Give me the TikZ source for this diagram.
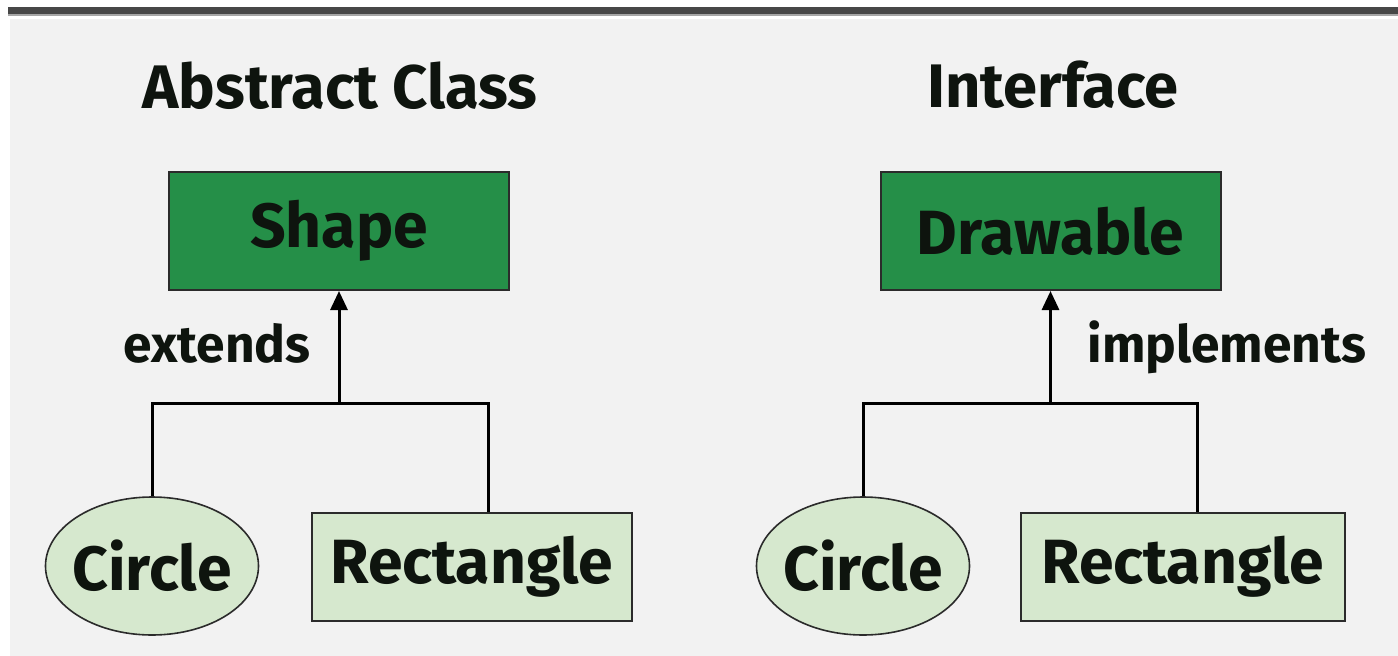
\documentclass[tikz,border=0pt]{standalone}
\usepackage{fontspec}
\setmainfont{Fira Sans}
\usetikzlibrary{arrows.meta,shapes.geometric}
\definecolor{pagebg}{HTML}{F2F2F2}
\definecolor{topbar}{HTML}{474747}
\definecolor{dkgreen}{HTML}{258F48}
\definecolor{ltgreen}{HTML}{D6E8CE}
\definecolor{edge}{HTML}{2B2B2B}
\definecolor{ink}{HTML}{0E140E}
\begin{document}
\begin{tikzpicture}[x=1pt,y=-1pt,
  every node/.style={text=ink},
  parentbox/.style={rectangle,draw=edge,line width=2pt,fill=dkgreen,
    minimum width=340pt,minimum height=118pt,inner sep=0pt,
    font=\fontsize{62.5}{64}\selectfont\bfseries},
  childbox/.style={rectangle,draw=edge,line width=2pt,fill=ltgreen,
    minimum height=108pt,inner sep=0pt,
    font=\fontsize{62.5}{64}\selectfont\bfseries},
  childoval/.style={ellipse,draw=edge,line width=1.6pt,fill=ltgreen,
    minimum width=213pt,minimum height=138pt,inner xsep=-14pt,inner ysep=0pt,
    font=\fontsize{62.5}{64}\selectfont\bfseries},
  heading/.style={anchor=base,inner sep=0pt,font=\fontsize{61.5}{64}\selectfont\bfseries},
  rel/.style={anchor=base,inner sep=0pt,font=\fontsize{51.5}{54}\selectfont\bfseries},
  conn/.style={line width=3pt,draw=black},
  tip/.style={-{Triangle[width=17pt,length=19pt]}}
]
\useasboundingbox (0,0) rectangle (1398,656);
% page background and top rule
\fill[white] (0,0) rectangle (1398,656);
\fill[pagebg] (10,19) rectangle (1398,656);
\fill[topbar] (8,7) rectangle (1398,14);
\fill[black!35] (8,14) rectangle (1398,15.5);

% ---- abstract class side ----
\node[heading] (titleA) at (340,108) {Abstract Class};
\node[parentbox] (shape) at (339,231) {Shape};
\node[childoval] (circA) at (152,566) {Circle};
\node[childbox,minimum width=320pt] (rectA) at (472,567) {Rectangle};
\coordinate (jA) at (339,403);
\coordinate (bA) at (488,403);
\draw[conn,tip] (jA) -- (shape.south);
\draw[conn] (circA.north) |- (bA) -- (bA |- rectA.north);
\node[rel] (extA) at (217,362) {extends};

% ---- interface side ----
\node[heading] (titleB) at (1053,107) {Interface};
\node[parentbox] (drawable) at (1050.5,231) {Drawable};
\node[childoval] (circB) at (863,566) {Circle};
\node[childbox,minimum width=324pt] (rectB) at (1183,567) {Rectangle};
\coordinate (jB) at (1050.5,403);
\coordinate (bB) at (1197,403);
\draw[conn,tip] (jB) -- (drawable.south);
\draw[conn] (circB.north) |- (bB) -- (bB |- rectB.north);
\node[rel] (impB) at (1227,362) {implements};
\end{tikzpicture}
\end{document}
